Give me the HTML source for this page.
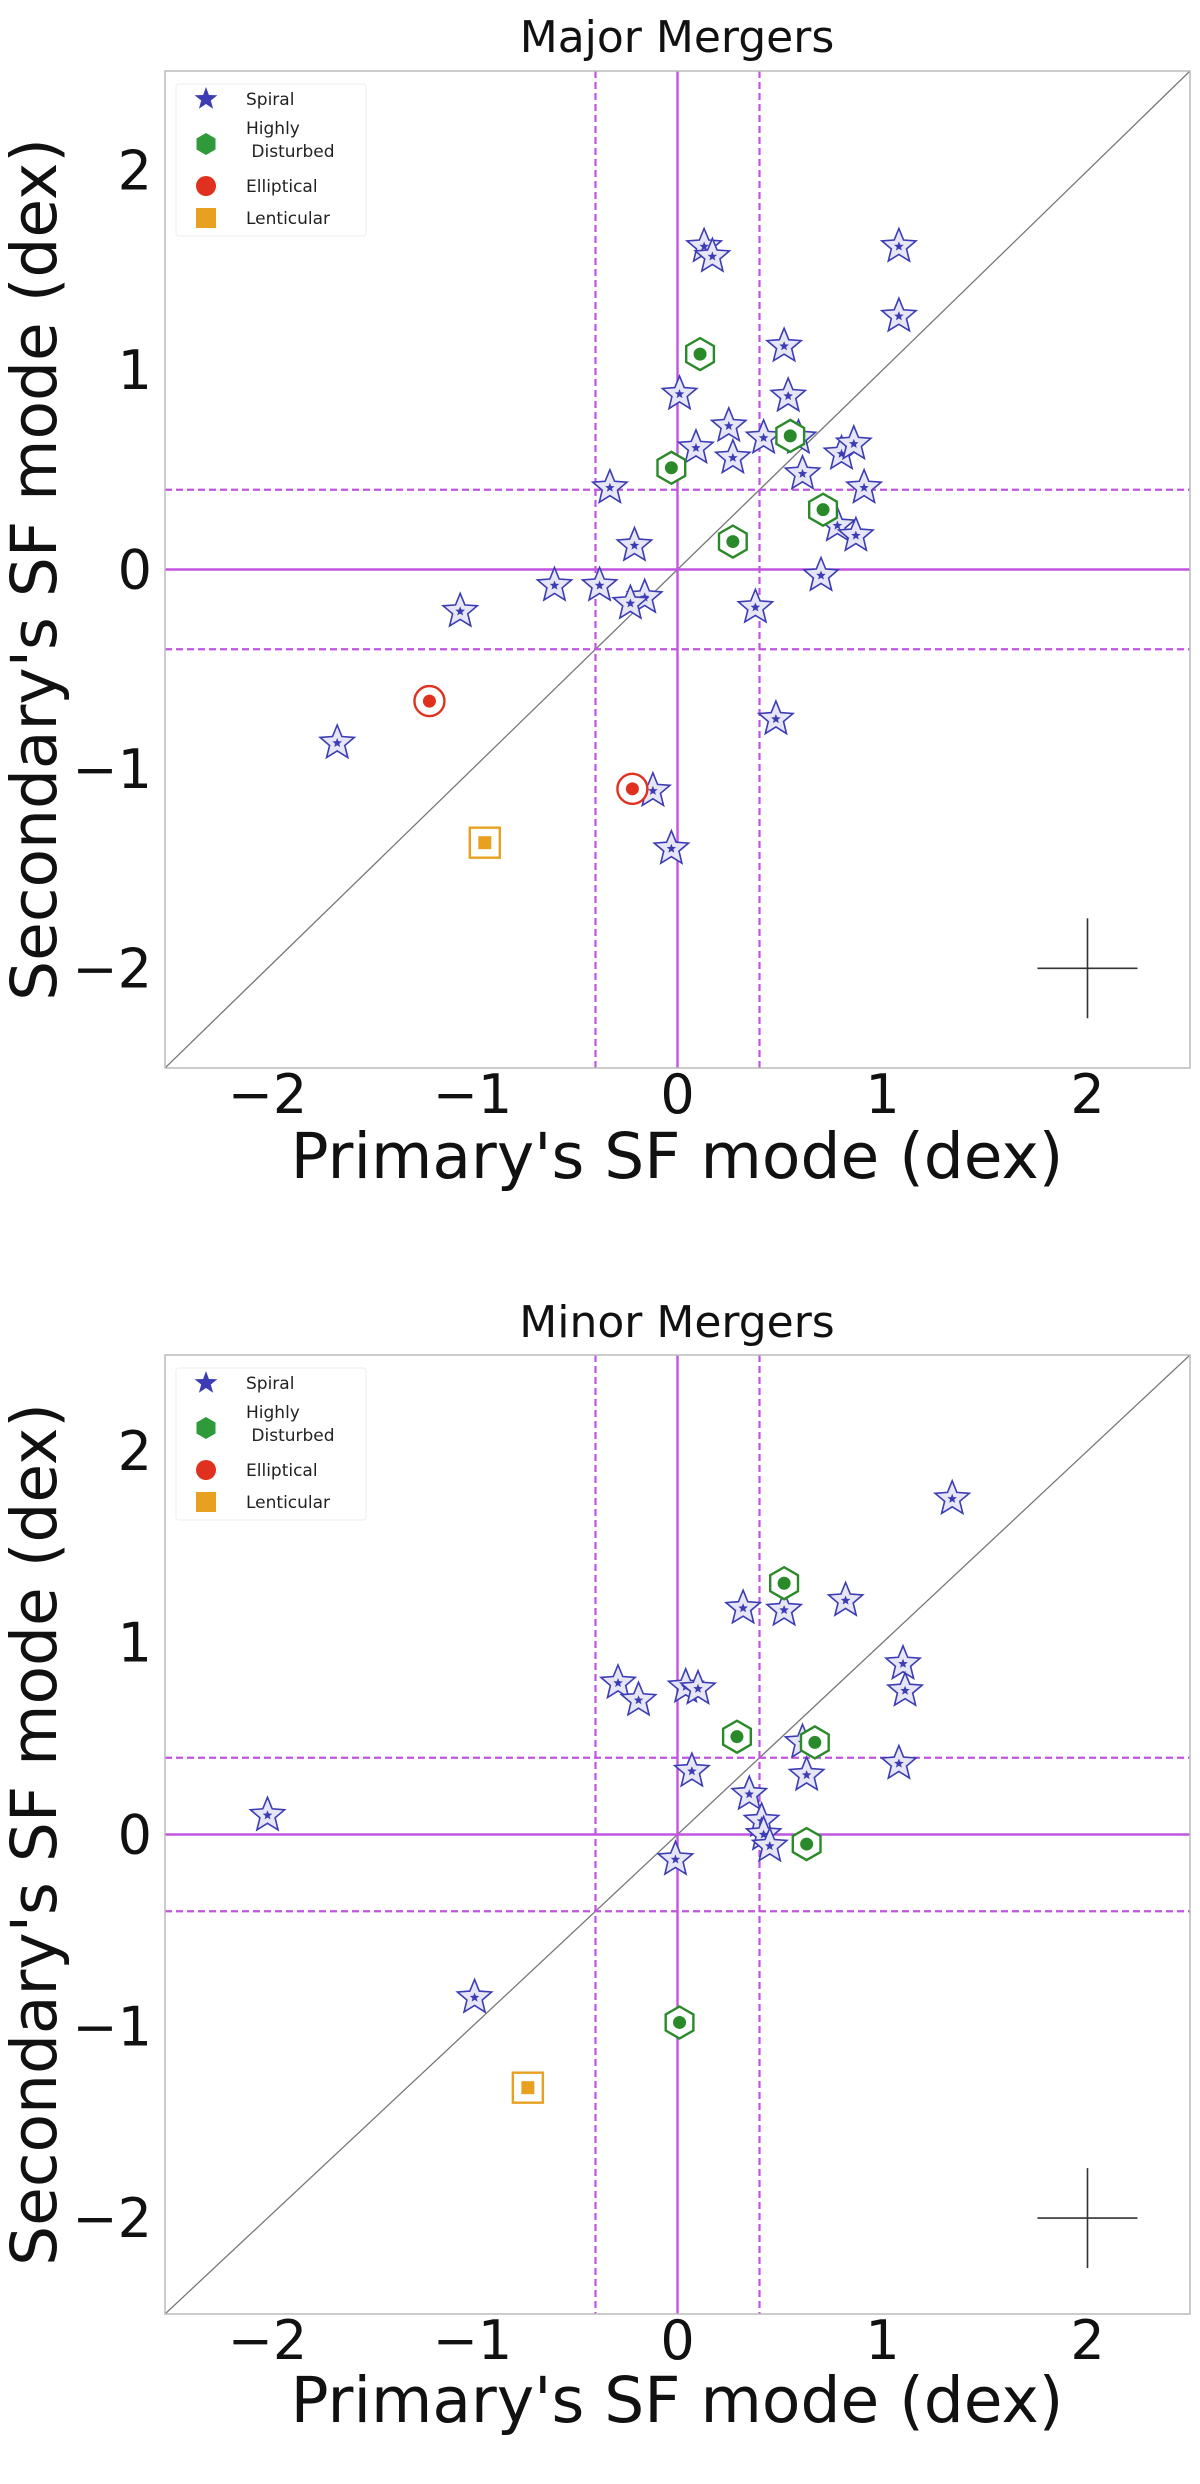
<!DOCTYPE html>
<html><head><meta charset="utf-8">
<style>
html,body{margin:0;padding:0;background:#fff;}
svg{display:block;font-family:"DejaVu Sans","Liberation Sans",sans-serif;}
</style></head>
<body>
<svg id="fig" width="1200" height="2484" viewBox="0 0 1200 2484" xmlns="http://www.w3.org/2000/svg"></svg>
<script>
const ticks = [-2,-1,0,1,2];
const tickLabels = ["\u22122","\u22121","0","1","2"];
const legendLabels = ["Spiral","Highly\n Disturbed","Elliptical","Lenticular"];
// Major mergers
const majSpiralX = [0.13,0.17,1.08,1.08,0.52,0.54,0.01,0.25,0.09,0.27,0.42,0.59,0.61,0.80,0.86,0.91,0.78,0.87,0.70,0.38,0.48,-0.33,-0.21,-0.38,-0.60,-0.16,-0.23,-1.06,-1.66,-0.12,-0.03];
const majSpiralY = [1.62,1.57,1.62,1.27,1.12,0.87,0.88,0.72,0.61,0.56,0.66,0.66,0.48,0.58,0.63,0.41,0.22,0.17,-0.03,-0.19,-0.75,0.41,0.12,-0.08,-0.08,-0.14,-0.17,-0.21,-0.87,-1.11,-1.40];
const majDistX = [0.11,0.55,-0.03,0.27,0.71];
const majDistY = [1.08,0.67,0.51,0.14,0.30];
const majEllX = [-1.21,-0.22];
const majEllY = [-0.66,-1.10];
const majLentX = [-0.94];
const majLentY = [-1.37];
// Minor mergers
const minSpiralX = [1.34,0.82,0.32,0.52,1.10,1.11,1.08,-0.29,-0.19,0.04,0.10,0.07,0.61,0.63,0.35,0.41,0.42,0.45,-0.01,-2.0,-0.99];
const minSpiralY = [1.75,1.22,1.18,1.17,0.89,0.75,0.37,0.79,0.70,0.77,0.76,0.33,0.48,0.31,0.21,0.07,0.0,-0.06,-0.13,0.10,-0.85];
const minDistX = [0.52,0.29,0.67,0.63,0.01];
const minDistY = [1.31,0.51,0.48,-0.05,-0.98];
const minEllX = [];
const minEllY = [];
const minLentX = [-0.73];
const minLentY = [-1.32];

const NS="http://www.w3.org/2000/svg";
const svg=document.getElementById('fig');
function mk(tag,attrs,parent){const e=document.createElementNS(NS,tag);for(const k in attrs)e.setAttribute(k,attrs[k]);(parent||svg).appendChild(e);return e;}
function starPts(cx,cy,R,r){let p=[];for(let i=0;i<10;i++){const a=-Math.PI/2+i*Math.PI/5;const rr=i%2?r:R;p.push((cx+rr*Math.cos(a)).toFixed(1)+','+(cy+rr*Math.sin(a)).toFixed(1));}return p.join(' ');}
function hexPts(cx,cy,R){let p=[];for(let i=0;i<6;i++){const a=Math.PI/6+i*Math.PI/3;p.push((cx+R*Math.cos(a)).toFixed(1)+','+(cy+R*Math.sin(a)).toFixed(1));}return p.join(' ');}
const BLUE="#3c3cb4",GREEN="#2a8a2a",RED="#e0301e",ORANGE="#e8a020",VIOLET="#c155e0";

function drawStar(g,cx,cy){
 const s=mk('polygon',{points:starPts(cx,cy,18,8),fill:'#e6e6f6',stroke:BLUE,'stroke-width':1.6},g);
 
 
 const c=mk('polygon',{points:starPts(cx,cy,5,2.2),fill:BLUE},g);
 
 
}
function drawHex(g,cx,cy){
 const h=mk('polygon',{points:hexPts(cx,cy,16),fill:'#fff',stroke:GREEN,'stroke-width':2.4},g);
 
 
 const c=mk('circle',{cx:cx,cy:cy,r:6.5,fill:GREEN},g);
 
 
}
function drawEll(g,cx,cy){
 const h=mk('circle',{cx:cx,cy:cy,r:15,fill:'#fff',stroke:RED,'stroke-width':2.4},g);
 
 
 const c=mk('circle',{cx:cx,cy:cy,r:6.5,fill:RED},g);
 
 
}
function drawLent(g,cx,cy){
 const h=mk('rect',{x:cx-15,y:cy-15,width:30,height:30,fill:'#fff',stroke:ORANGE,'stroke-width':2.4},g);
 
 
 const c=mk('rect',{x:cx-6.5,y:cy-6.5,width:13,height:13,fill:ORANGE},g);
 
 
}

function panel(name,title,top,bottom,titleY,tickY,xlabY,sX,sY,dX,dY,eX,eY,lX,lY){
 const L=165,R=1190,T=top,B=bottom;
 const xs=v=>L+(v+2.5)/5*(R-L);
 const ys=v=>B-(v+2.5)/5*(B-T);
 const g=mk('g',{});
 
 
 const t=mk('text',{x:677,y:titleY,'font-size':44,'text-anchor':'middle',fill:'#111'},g);
 t.textContent=title;
 
 
 const clipId='clip'+name;
 const cp=mk('clipPath',{id:clipId},g);mk('rect',{x:L,y:T,width:R-L,height:B-T},cp);
 const pg=mk('g',{'clip-path':'url(#'+clipId+')'},g);
 // diagonal
 const d=mk('line',{x1:xs(-2.5),y1:ys(-2.5),x2:xs(2.5),y2:ys(2.5),stroke:'#777','stroke-width':1.3},pg);
 
 
 // reference lines
 [-0.4,0.4].forEach(v=>{
  const a=mk('line',{x1:xs(v),y1:T,x2:xs(v),y2:B,stroke:VIOLET,'stroke-width':2.2,'stroke-dasharray':'7,4'},pg);
  
  
  const b=mk('line',{x1:L,y1:ys(v),x2:R,y2:ys(v),stroke:VIOLET,'stroke-width':2.2,'stroke-dasharray':'7,4'},pg);
  
  
 });
 const v0=mk('line',{x1:xs(0),y1:T,x2:xs(0),y2:B,stroke:VIOLET,'stroke-width':2.4},pg);
 
 
 const h0=mk('line',{x1:L,y1:ys(0),x2:R,y2:ys(0),stroke:VIOLET,'stroke-width':2.4},pg);
 
 
 // error cross
 const ex=mk('line',{x1:xs(2)-50,y1:ys(-2),x2:xs(2)+50,y2:ys(-2),stroke:'#333','stroke-width':1.6},pg);
 
 
 const ey=mk('line',{x1:xs(2),y1:ys(-2)-50,x2:xs(2),y2:ys(-2)+50,stroke:'#333','stroke-width':1.6},pg);
 
 
 // points
 sX.forEach((v,i)=>drawStar(pg,xs(v),ys(sY[i])));
 dX.forEach((v,i)=>drawHex(pg,xs(v),ys(dY[i])));
 eX.forEach((v,i)=>drawEll(pg,xs(v),ys(eY[i])));
 lX.forEach((v,i)=>drawLent(pg,xs(v),ys(lY[i])));
 // frame
 const f=mk('rect',{x:L,y:T,width:R-L,height:B-T,fill:'none',stroke:'#bbb','stroke-width':1.5},g);
 
 
 // ticks
 ticks.forEach((v,i)=>{
  const tx=mk('text',{x:xs(v),y:tickY,'font-size':54,'text-anchor':'middle',fill:'#111'},g);
  tx.textContent=tickLabels[i];
  
  
  const ty=mk('text',{x:152,y:ys(v)+19,'font-size':54,'text-anchor':'end',fill:'#111'},g);
  ty.textContent=tickLabels[i];
  
  
 });
 const xl=mk('text',{x:677,y:xlabY,'font-size':63,'text-anchor':'middle',fill:'#111'},g);
 xl.textContent="Primary's SF mode (dex)";
 
 
 const yc=(T+B)/2;
 const yl=mk('text',{x:0,y:0,'font-size':63,'text-anchor':'middle',fill:'#111',transform:'translate(56,'+yc+') rotate(-90)'},g);
 yl.textContent="Secondary's SF mode (dex)";
 
 
 // legend
 const lg=mk('g',{},g);
 
 
 mk('rect',{x:176,y:T+13,width:190,height:152,fill:'#fff',stroke:'#eee','stroke-width':1,rx:3},lg);
 const ly=[T+28,T+73,T+115,T+147];
 mk('polygon',{points:starPts(206,ly[0],12,5),fill:BLUE},lg);
 mk('polygon',{points:hexPts(206,ly[1],11),fill:'#2e9a3a'},lg);
 mk('circle',{cx:206,cy:ly[2],r:10,fill:RED},lg);
 mk('rect',{x:196,y:ly[3]-10,width:20,height:20,fill:ORANGE},lg);
 legendLabels.forEach((s,i)=>{
  const parts=s.split('\n');
  const y0=parts.length>1?ly[i]-10:ly[i]+6;
  parts.forEach((p,j)=>{
   const lt=mk('text',{x:246,y:y0+j*23,'font-size':17,fill:'#222','xml:space':'preserve'},lg);
   lt.textContent=p.replace(/^ /,'\u00a0');
   
   
  });
 });
}
panel('major-mergers-panel','Major Mergers',71,1068,52,1113,1178,majSpiralX,majSpiralY,majDistX,majDistY,majEllX,majEllY,majLentX,majLentY);
panel('minor-mergers-panel','Minor Mergers',1355,2314,1337,2359,2422,minSpiralX,minSpiralY,minDistX,minDistY,minEllX,minEllY,minLentX,minLentY);
</script>
</body></html>
